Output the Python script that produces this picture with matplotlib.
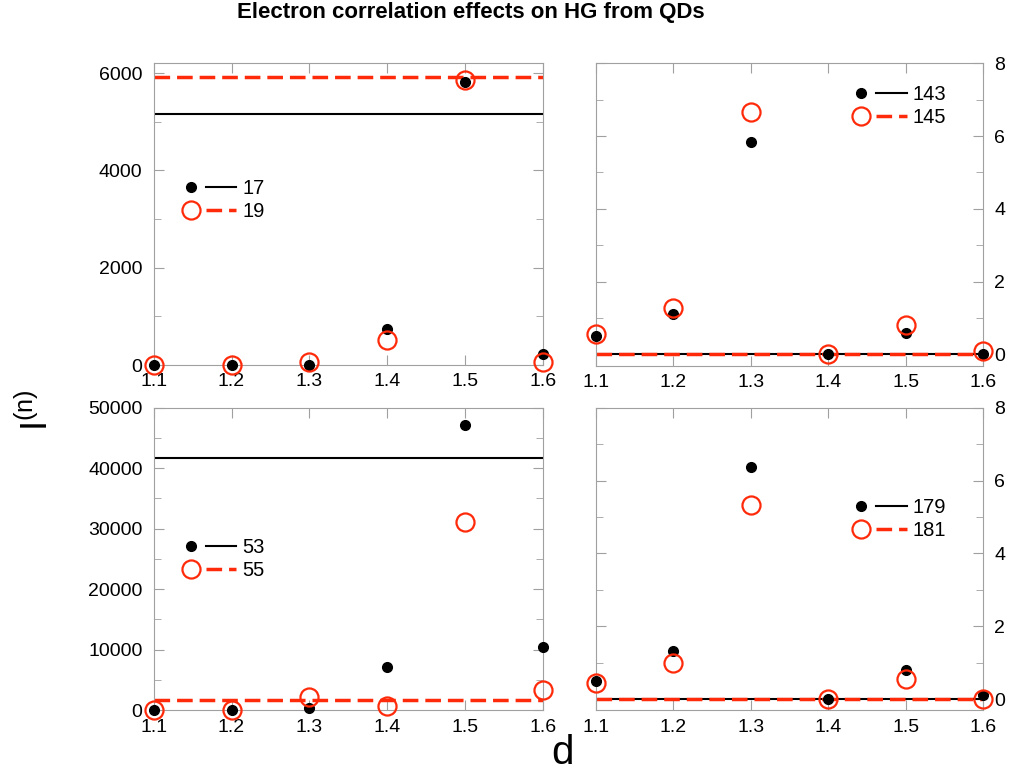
# Electron correlation effects on HG from QDs - four panel scatter chart

import matplotlib.pyplot as plt
from matplotlib.lines import Line2D
from matplotlib.legend_handler import HandlerTuple
from matplotlib.ticker import MultipleLocator

plt.rcParams['font.family'] = ['Liberation Sans', 'DejaVu Sans']

# Data
d = [1.1, 1.2, 1.3, 1.4, 1.5, 1.6]

# top left: harmonics 17 / 19
h17 = [0, 0, 0, 752, 5815, 232]
h19 = [0, 0, 55, 526, 5863, 55]
h17_line = 5152
h19_line = 5925

# top right: harmonics 143 / 145
h143 = [0.51, 1.12, 5.84, 0.0, 0.59, 0.01]
h145 = [0.55, 1.26, 6.65, 0.0, 0.81, 0.10]
h143_line = 0.01
h145_line = 0.01

# bottom left: harmonics 53 / 55
h53 = [0, 100, 400, 7200, 47200, 10440]
h55 = [0, 100, 2200, 660, 31040, 3350]
h53_line = 41650
h55_line = 1700

# bottom right: harmonics 179 / 181
h179 = [0.50, 1.32, 6.37, 0.02, 0.81, 0.13]
h181 = [0.46, 0.99, 5.34, 0.02, 0.56, 0.02]
h179_line = 0.0
h181_line = 0.0

RED = '#ff2a0a'
GREY = '#a0a0a0'
DASH = (0, (4.5, 2))

fig = plt.figure(figsize=(10.11, 7.72), dpi=100)

panels = [
    # rect, y values (black, red), lines, labels, ylim, major, minor, right side, legend anchor
    ([0.152, 0.527, 0.385, 0.391], h17, h19, h17_line, h19_line, ('17', '19'),
     (0, 6200), 2000, 1000, False, (0.057, 0.616)),
    ([0.5895, 0.526, 0.383, 0.392], h143, h145, h143_line, h145_line, ('143', '145'),
     (-0.32, 8), 2, 1, True, (0.646, 0.927)),
    ([0.152, 0.080, 0.385, 0.392], h53, h55, h53_line, h55_line, ('53', '55'),
     (0, 50000), 10000, 5000, False, (0.057, 0.568)),
    ([0.5895, 0.080, 0.383, 0.392], h179, h181, h179_line, h181_line, ('179', '181'),
     (-0.3, 8), 2, 1, True, (0.646, 0.700)),
]

for rect, yb, yr, lb, lr, labels, ylim, major, minor, right, anchor in panels:
    ax = fig.add_axes(rect)
    ax.axhline(lb, color='black', lw=1.5)
    ax.axhline(lr, color=RED, lw=2.5, ls=DASH)
    ax.plot(d, yb, 'o', color='black', ms=7, clip_on=False, zorder=4)
    ax.plot(d, yr, 'o', mfc='none', mec=RED, ms=13, mew=1.6, clip_on=False, zorder=5)
    ax.set_xlim(1.1, 1.6)
    ax.set_ylim(*ylim)
    ax.set_xticks(d)
    ax.yaxis.set_major_locator(MultipleLocator(major))
    ax.yaxis.set_minor_locator(MultipleLocator(minor))
    ax.tick_params(which='both', direction='in', top=True, right=True, left=True,
                   color=GREY, labelsize=14)
    ax.tick_params(axis='x', pad=6)
    ax.tick_params(axis='y', pad=8)
    ax.tick_params(which='major', length=7)
    ax.tick_params(which='minor', length=5)
    if right:
        ax.tick_params(labelleft=False, labelright=True)
    for s in ax.spines.values():
        s.set_color(GREY)

    hb = (Line2D([], [], ls='none', marker='o', color='black', ms=7),
          Line2D([], [], color='black', lw=1.5))
    hr = (Line2D([], [], ls='none', marker='o', mfc='none', mec=RED, ms=13, mew=1.6),
          Line2D([], [], color=RED, lw=2.5, ls=DASH))
    ax.legend([hb, hr], labels, handler_map={tuple: HandlerTuple(ndivide=None, pad=0)},
              loc='upper left', bbox_to_anchor=anchor, frameon=False, borderaxespad=0,
              borderpad=0, handlelength=3.0, handletextpad=0.3, labelspacing=0.2,
              fontsize=14.5)

fig.text(0.466, 0.984, 'Electron correlation effects on HG from QDs',
         ha='center', va='center', fontsize=16, fontweight='bold')
fig.text(0.037, 0.469, r'$\mathregular{I^{(n)}}$', ha='center', va='center',
         fontsize=26, rotation=90)
fig.text(0.556, 0.025, 'd', ha='center', va='center', fontsize=29)

fig.savefig('out.png', dpi=100)
